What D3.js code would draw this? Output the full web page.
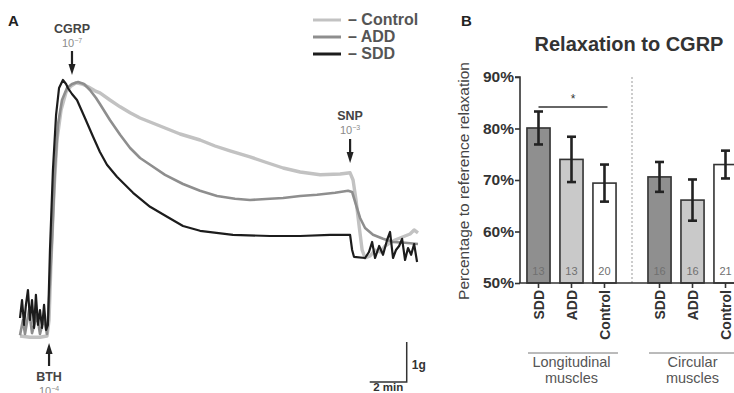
<!DOCTYPE html>
<html>
<head>
<meta charset="utf-8">
<script src="https://cdn.jsdelivr.net/npm/d3@7"></script>
<style>
  body { margin: 0; background: #fff; }
  svg { display: block; font-family: "Liberation Sans", Arial, sans-serif; }
</style>
</head>
<body>
<svg id="chart" width="734" height="393"></svg>
<script>
// ---- Panel A: tension traces, [time (min), tension (g)]
const controlTrace = [[0,-0.15],[0.54,-0.18],[1.08,-0.18],[1.46,-0.15],[1.57,0.25],[1.68,1.75],[1.84,3.5],[2.0,4.75],[2.22,5.5],[2.49,5.95],[2.76,6.1],[3.03,6.18],[3.35,6.15],[3.68,6.08],[4.05,5.98],[4.32,5.93],[4.86,5.75],[5.41,5.58],[5.95,5.43],[6.49,5.3],[7.03,5.2],[7.84,5.05],[8.65,4.9],[9.73,4.75],[10.54,4.6],[11.35,4.48],[12.43,4.33],[13.24,4.2],[14.22,4.05],[15.14,3.95],[16.22,3.88],[17.3,3.9],[17.84,3.93],[18.0,3.75],[18.16,3.25],[18.32,2.63],[18.49,2.0],[18.65,1.8],[18.92,1.85],[19.19,2.0],[19.46,1.95],[19.73,2.1],[20.0,2.18],[20.27,2.25],[20.54,2.3],[20.81,2.35],[21.08,2.4],[21.3,2.5],[21.51,2.43]];
const addTrace = [[0,-0.13],[0.16,0.25],[0.27,-0.1],[0.49,0.5],[0.65,-0.08],[0.92,0.38],[1.08,-0.1],[1.3,0.3],[1.46,-0.1],[1.57,0.75],[1.73,2.25],[1.89,4.0],[2.05,5.13],[2.27,5.75],[2.54,6.05],[2.81,6.15],[3.14,6.2],[3.46,6.15],[3.78,6.0],[4.11,5.8],[4.32,5.65],[4.86,5.25],[5.41,4.88],[5.95,4.55],[6.49,4.3],[7.03,4.13],[7.84,3.88],[8.81,3.65],[9.73,3.48],[10.65,3.35],[11.62,3.28],[12.43,3.25],[13.51,3.28],[14.22,3.3],[15.14,3.35],[16.05,3.38],[17.03,3.43],[17.73,3.48],[17.95,3.45],[18.16,3.13],[18.38,2.8],[18.65,2.55],[19.08,2.38],[19.62,2.28],[20.16,2.2],[20.81,2.18],[21.51,2.15]];
const sddTrace = [[0,0.3],[0.11,0.75],[0.22,0.13],[0.32,0.63],[0.43,1.0],[0.54,0.25],[0.65,0.75],[0.76,0.05],[0.86,0.88],[0.97,0.13],[1.08,0.5],[1.19,0.05],[1.3,0.63],[1.41,0],[1.51,0.13],[1.62,2.0],[1.78,4.0],[1.95,5.38],[2.11,6.05],[2.32,6.25],[2.49,6.15],[2.59,6.05],[2.81,5.9],[3.08,5.75],[3.51,5.3],[3.95,4.83],[4.32,4.45],[4.7,4.13],[5.24,3.83],[6.11,3.43],[7.03,3.08],[7.95,2.83],[8.81,2.6],[9.73,2.48],[11.51,2.38],[13.51,2.35],[15.14,2.35],[16.76,2.38],[17.84,2.38],[17.95,2.0],[18.05,1.83],[18.65,1.8],[18.86,1.95],[19.03,2.2],[19.19,1.8],[19.41,2.1],[19.62,1.88],[19.84,2.25],[20.0,2.45],[20.16,1.8],[20.32,2.0],[20.49,2.1],[20.65,2.28],[20.81,1.75],[20.97,2.05],[21.14,1.88],[21.3,2.15],[21.46,1.7]];
const traceNames = ["Control", "ADD", "SDD"];
const traceColors = ["#c2c2c2", "#8e8e8e", "#1c1c1c"];
const traceWidths = [3.4, 2.6, 2.2];
const events = [
  { name: "CGRP", exp: "-7", t: 2.81 },
  { name: "SNP", exp: "-3", t: 17.84 },
  { name: "BTH", exp: "-4", t: 1.57 }
];

// ---- Panel B: relaxation (% of reference), mean and SEM
const conditions = ["SDD", "ADD", "Control"];
const muscleGroups = ["Longitudinal muscles", "Circular muscles"];
const longMean = [80.1, 74.0, 69.4];
const longSem = [3.2, 4.4, 3.6];
const longN = [13, 13, 20];
const circMean = [70.6, 66.1, 73.0];
const circSem = [2.9, 4.0, 2.7];
const circN = [16, 16, 21];
const yTicks = [50, 60, 70, 80, 90];
const barFills = ["#8f8f8f", "#c9c9c9", "#ffffff"];

const svg = d3.select("#chart");

// ===== Panel A =====
const x = d3.scaleLinear().domain([0, 21.51]).range([20, 418]);
const y = d3.scaleLinear().domain([-0.5, 7]).range([350, 50]);
const line = d3.line().x(d => x(d[0])).y(d => y(d[1]));

const traces = [controlTrace, addTrace, sddTrace];
traces.forEach((tr, i) => {
  svg.append("path")
    .attr("d", line(tr))
    .attr("fill", "none")
    .attr("stroke", traceColors[i])
    .attr("stroke-width", traceWidths[i])
    .attr("stroke-linejoin", "round");
});

svg.append("text").attr("x", 8).attr("y", 26)
  .attr("font-size", 15).attr("font-weight", "bold").attr("fill", "#222").text("A");

// legend
const legend = svg.append("g");
traceNames.forEach((name, i) => {
  const ly = 20 + i * 17;
  legend.append("line")
    .attr("x1", 313).attr("x2", 341).attr("y1", ly).attr("y2", ly)
    .attr("stroke", traceColors[i]).attr("stroke-width", 3);
  legend.append("text")
    .attr("x", 348).attr("y", ly + 5)
    .attr("font-size", 16).attr("font-weight", "bold").attr("fill", "#555")
    .text("\u2013 " + name);
});

// event arrows
events.forEach(ev => {
  const ex = x(ev.t);
  const g = svg.append("g").attr("fill", "#222");
  let y0, y1, labelY;
  if (ev.name === "CGRP") { y0 = 51; y1 = 75; labelY = 33; }
  else if (ev.name === "SNP") { y0 = 139; y1 = 163; labelY = 120; }
  else { y0 = 366; y1 = 343; labelY = 381; }
  const s = y1 > y0 ? 1 : -1;
  g.append("line").attr("x1", ex).attr("x2", ex)
    .attr("y1", y0).attr("y2", y1 - s * 8)
    .attr("stroke", "#222").attr("stroke-width", 2.2);
  g.append("path")
    .attr("d", `M${ex - 3.5},${y1 - s * 11}L${ex + 3.5},${y1 - s * 11}L${ex},${y1}Z`);
  g.append("text").attr("x", ex).attr("y", labelY)
    .attr("text-anchor", "middle").attr("font-size", 12.5).attr("font-weight", "bold")
    .attr("fill", "#444").text(ev.name);
  const conc = g.append("text").attr("x", ex).attr("y", labelY + 14)
    .attr("text-anchor", "middle").attr("font-size", 11).attr("fill", "#8a8a8a");
  conc.append("tspan").text("10");
  conc.append("tspan").attr("dy", -4).attr("font-size", 7).text(ev.exp.replace("-", "\u2212"));
});

// scale bar: 2 min x 1 g
const sbX = 20.9, sbY = -1.3;
svg.append("path")
  .attr("d", `M${x(sbX - 2)},${y(sbY)}H${x(sbX)}V${y(sbY + 1)}`)
  .attr("fill", "none").attr("stroke", "#333").attr("stroke-width", 1.5);
svg.append("text").attr("x", x(sbX) + 5).attr("y", 369)
  .attr("font-size", 12).attr("font-weight", "bold").attr("fill", "#333").text("1g");
svg.append("text").attr("x", x(sbX - 1)).attr("y", 391)
  .attr("text-anchor", "middle").attr("font-size", 11.5).attr("font-weight", "bold").attr("fill", "#333").text("2 min");

// ===== Panel B =====
const yB = d3.scaleLinear().domain([50, 90]).range([283, 77]);
const xGroup = d3.scaleBand().domain(muscleGroups).range([522, 742]).paddingInner(0.182).paddingOuter(0);
const xCond = d3.scaleBand().domain(conditions).range([0, xGroup.bandwidth()]).paddingInner(0.3).paddingOuter(0.15);

const barData = [];
conditions.forEach((c, i) => {
  barData.push({ group: muscleGroups[0], cond: c, mean: longMean[i], sem: longSem[i], n: longN[i], fill: barFills[i] });
});
conditions.forEach((c, i) => {
  barData.push({ group: muscleGroups[1], cond: c, mean: circMean[i], sem: circSem[i], n: circN[i], fill: barFills[i] });
});
const bx = d => xGroup(d.group) + xCond(d.cond);
const bc = d => bx(d) + xCond.bandwidth() / 2;

svg.append("text").attr("x", 461).attr("y", 26)
  .attr("font-size", 15).attr("font-weight", "bold").attr("fill", "#222").text("B");
svg.append("text").attr("x", 629).attr("y", 51).attr("text-anchor", "middle")
  .attr("font-size", 20).attr("font-weight", "bold").attr("fill", "#333").text("Relaxation to CGRP");

// separator
const sepX = (xGroup(muscleGroups[0]) + xGroup.bandwidth() + xGroup(muscleGroups[1])) / 2;
svg.append("line").attr("x1", sepX).attr("x2", sepX).attr("y1", yB(90)).attr("y2", yB(50))
  .attr("stroke", "#999").attr("stroke-width", 1).attr("stroke-dasharray", "2,2");

// bars
const clip = svg.append("defs").append("clipPath").attr("id", "clipB");
clip.append("rect").attr("x", 440).attr("y", 0).attr("width", 294).attr("height", 393);
const gB = svg.append("g").attr("clip-path", "url(#clipB)");

gB.selectAll(".bar").data(barData).join("rect")
  .attr("class", "bar")
  .attr("x", bx).attr("width", xCond.bandwidth())
  .attr("y", d => yB(d.mean)).attr("height", d => yB(50) - yB(d.mean))
  .attr("fill", d => d.fill).attr("stroke", "#333").attr("stroke-width", 1.6);

gB.selectAll(".nlab").data(barData).join("text")
  .attr("x", bc).attr("y", 275).attr("text-anchor", "middle")
  .attr("font-size", 11).attr("fill", "#707070").text(d => d.n);

// error bars
const eb = gB.selectAll(".err").data(barData).join("g").attr("stroke", "#222").attr("stroke-width", 2.6);
eb.append("line").attr("x1", bc).attr("x2", bc)
  .attr("y1", d => yB(d.mean + d.sem)).attr("y2", d => yB(d.mean - d.sem));
eb.append("line").attr("x1", d => bc(d) - 4.5).attr("x2", d => bc(d) + 4.5)
  .attr("y1", d => yB(d.mean + d.sem)).attr("y2", d => yB(d.mean + d.sem));
eb.append("line").attr("x1", d => bc(d) - 4.5).attr("x2", d => bc(d) + 4.5)
  .attr("y1", d => yB(d.mean - d.sem)).attr("y2", d => yB(d.mean - d.sem));

// y axis
const yAxis = svg.append("g").attr("transform", "translate(520,0)")
  .call(d3.axisLeft(yB).tickValues(yTicks).tickSize(5).tickFormat(d => d + "%"));
yAxis.select(".domain").attr("stroke", "#333").attr("stroke-width", 1.6).attr("d", `M-5,${yB(90)}H0V${yB(50)}`);
yAxis.selectAll(".tick line").attr("stroke", "#333").attr("stroke-width", 1.6);
yAxis.selectAll(".tick text").attr("font-size", 15.5).attr("font-weight", "bold")
  .attr("fill", "#333").attr("font-family", "Liberation Sans, Arial, sans-serif").attr("x", -6);

// x axis
svg.append("line").attr("x1", 519).attr("x2", 734).attr("y1", yB(50)).attr("y2", yB(50))
  .attr("stroke", "#333").attr("stroke-width", 1.6);
svg.selectAll(".xtick").data(barData).join("line")
  .attr("x1", bc).attr("x2", bc).attr("y1", yB(50)).attr("y2", yB(50) + 5)
  .attr("stroke", "#333").attr("stroke-width", 1.6);
svg.selectAll(".xlab").data(barData).join("text")
  .attr("transform", d => `translate(${bc(d)},${yB(50) + 7}) rotate(-90)`)
  .attr("text-anchor", "end").attr("dy", "0.36em")
  .attr("font-size", 14).attr("font-weight", "bold").attr("fill", "#333").text(d => d.cond);

// group labels
muscleGroups.forEach(gname => {
  const gx0 = xGroup(gname) + 6, gx1 = xGroup(gname) + xGroup.bandwidth() - 3;
  const cx = xGroup(gname) + xGroup.bandwidth() / 2;
  svg.append("line").attr("x1", gx0).attr("x2", Math.min(gx1, 734)).attr("y1", 353).attr("y2", 353)
    .attr("stroke", "#777").attr("stroke-width", 1);
  const words = gname.split(" ");
  words.forEach((w, i) => {
    svg.append("text").attr("x", cx).attr("y", 367 + i * 16).attr("text-anchor", "middle")
      .attr("font-size", 14.5).attr("fill", "#555").text(w);
  });
});

// significance
const sig0 = bc(barData[0]), sig1 = bc(barData[2]) + 3;
svg.append("line").attr("x1", sig0).attr("x2", sig1).attr("y1", 107).attr("y2", 107)
  .attr("stroke", "#333").attr("stroke-width", 1.4);
svg.append("text").attr("x", (sig0 + sig1) / 2).attr("y", 103).attr("text-anchor", "middle")
  .attr("font-size", 12).attr("fill", "#333").text("*");

// y label
svg.append("text").attr("transform", `translate(469,181) rotate(-90)`)
  .attr("text-anchor", "middle").attr("font-size", 15.5).attr("fill", "#444")
  .text("Percentage to reference relaxation");
</script>
</body>
</html>
